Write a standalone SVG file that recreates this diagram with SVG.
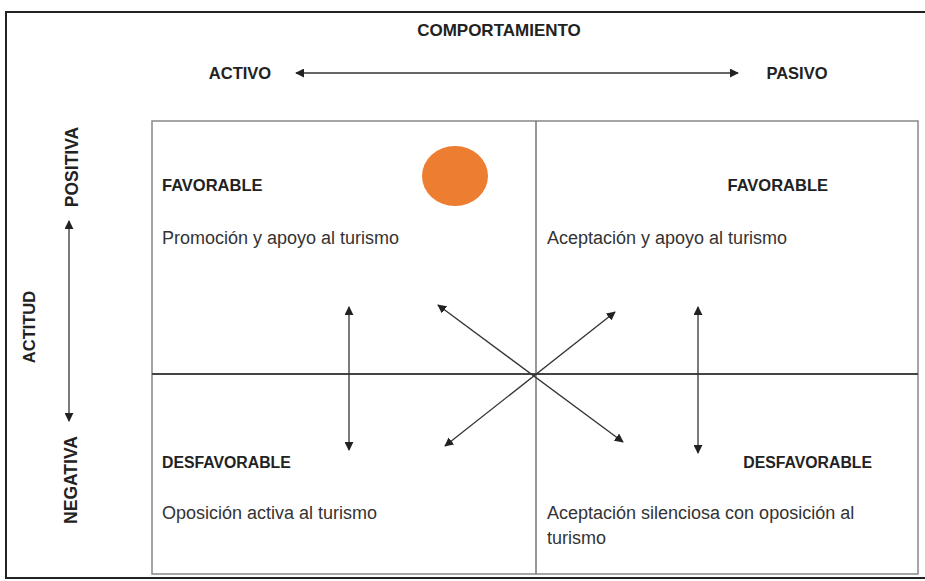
<svg xmlns="http://www.w3.org/2000/svg" width="925" height="581" viewBox="0 0 925 581">
<defs>
<marker id="ah" viewBox="0 0 10 10" refX="9" refY="5" markerWidth="9" markerHeight="9" markerUnits="userSpaceOnUse" orient="auto-start-reverse">
<path d="M0,0 L10,5 L0,10 z" fill="#222"/>
</marker>
<style>
.t{font-family:"Liberation Sans",Arial,sans-serif;font-size:18px;fill:#333}
.b{font-family:"Liberation Sans",Arial,sans-serif;font-size:16.5px;font-weight:bold;fill:#222}
.d{font-size:15.8px}
.r{font-family:"Liberation Sans",Arial,sans-serif;font-size:17.5px;font-weight:bold;fill:#222}
.c{stroke:#333;stroke-width:1.3;fill:none;marker-start:url(#ah);marker-end:url(#ah)}
</style>
</defs>
<rect x="0" y="0" width="925" height="581" fill="#fff"/>
<rect x="6" y="12" width="924" height="566" fill="none" stroke="#222" stroke-width="2"/>
<g id="grid">
<rect x="152" y="121" width="766" height="453" fill="none" stroke="#888" stroke-width="1.5"/>
<line x1="536" y1="121" x2="536" y2="574" stroke="#777" stroke-width="1.5"/>
<line x1="152" y1="374" x2="918" y2="374" stroke="#444" stroke-width="2"/>
</g>
<g id="axis-comportamiento">
<text class="b" x="499" y="36" text-anchor="middle" style="font-size:17px">COMPORTAMIENTO</text>
<text class="b" x="240" y="79" text-anchor="middle">ACTIVO</text>
<text class="b" x="797" y="79" text-anchor="middle">PASIVO</text>
</g>
<g id="axis-actitud">
<text class="r" transform="translate(78,167) rotate(-90)" text-anchor="middle">POSITIVA</text>
<text class="r" transform="translate(35,327) rotate(-90)" text-anchor="middle" style="font-size:16.5px">ACTITUD</text>
<text class="r" transform="translate(77,480) rotate(-90)" text-anchor="middle">NEGATIVA</text>
</g>
<g id="q1">
<text class="b" x="162" y="191">FAVORABLE</text>
<text class="t" x="162" y="244">Promoción y apoyo al turismo</text>
<ellipse cx="455" cy="176" rx="33" ry="30" fill="#ED7D31"/>
</g>
<g id="q2">
<text class="b" x="828" y="191" text-anchor="end">FAVORABLE</text>
<text class="t" x="547" y="244">Aceptación y apoyo al turismo</text>
</g>
<g id="q3">
<text class="b d" x="162" y="468">DESFAVORABLE</text>
<text class="t" x="162" y="519">Oposición activa al turismo</text>
</g>
<g id="q4">
<text class="b d" x="872" y="468" text-anchor="end">DESFAVORABLE</text>
<text class="t" x="547" y="519">Aceptación silenciosa con oposición al</text>
<text class="t" x="547" y="544">turismo</text>
</g>
<g id="connectors">
<line class="c" x1="296" y1="73" x2="738" y2="73"/>
<line class="c" x1="69" y1="221" x2="69" y2="421"/>
<line class="c" x1="349" y1="307" x2="349" y2="450"/>
<line class="c" x1="698" y1="307" x2="698" y2="453"/>
<line class="c" x1="438" y1="305" x2="623" y2="442"/>
<line class="c" x1="445" y1="446" x2="615" y2="312"/>
</g>
</svg>
